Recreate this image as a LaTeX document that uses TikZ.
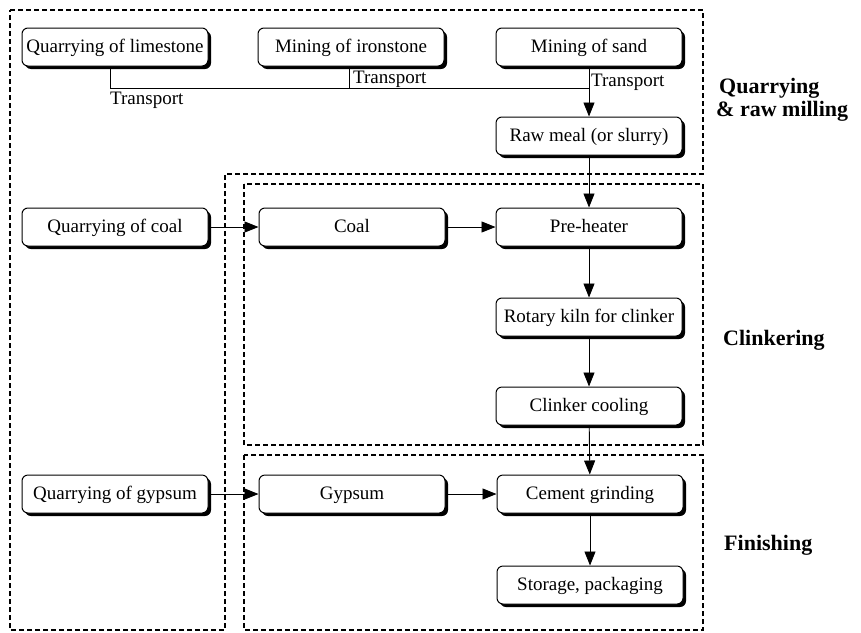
\documentclass[tikz,border=0pt]{standalone}
\usepackage{fontspec}
\setmainfont{Liberation Serif}
\usetikzlibrary{shadows,arrows.meta,calc}
\begin{document}
\begin{tikzpicture}[x=1pt,y=-1pt,
  box/.style={draw=black, line width=1pt, rounded corners=6pt, fill=white,
    minimum width=186pt, minimum height=38pt, inner sep=0pt,
    text height=14pt, text depth=3pt,
    font=\fontsize{19}{22}\selectfont,
    drop shadow={shadow xshift=3pt, shadow yshift=-3pt, fill=black, opacity=1}},
  conn/.style={line width=0.9pt, -{Triangle[length=14pt,width=11pt]}},
  plain/.style={line width=0.9pt},
  region/.style={line width=1.1pt, dash pattern=on 5pt off 3pt},
  lbl/.style={font=\fontsize{19}{22}\selectfont, inner sep=0pt},
  stage/.style={font=\fontsize{22}{23}\selectfont\bfseries, inner sep=0pt, align=left, anchor=west}
]
\useasboundingbox (0,0) rectangle (861,632);

% regions
\draw[region] (10,10) -- (703,10) -- (703,174) -- (225,174) -- (225,630) -- (10,630) -- cycle;
\draw[region] (244,184) rectangle (703,445);
\draw[region] (244,455) rectangle (703,630);

% nodes
\node[box] (lime) at (115,47) {Quarrying of limestone};
\node[box] (iron) at (351,47) {Mining of ironstone};
\node[box] (sand) at (589,47) {Mining of sand};
\node[box] (raw) at (589,136) {Raw meal (or slurry)};
\node[box] (qcoal) at (115,227) {Quarrying of coal};
\node[box] (coal) at (352,227) {Coal};
\node[box] (pre) at (589,227) {Pre-heater};
\node[box] (kiln) at (589,317) {Rotary kiln for clinker};
\node[box] (cool) at (589,406) {Clinker cooling};
\node[box] (qgyp) at (115,494) {Quarrying of gypsum};
\node[box] (gyp) at (352,494) {Gypsum};
\node[box] (cem) at (590,494) {Cement grinding};
\node[box] (sto) at (590,585) {Storage, packaging};

% transport joints
\coordinate (j1) at (110,88);
\coordinate (j2) at (349,88);
\coordinate (j3) at (589,88);
\draw[plain] (lime.south -| j1) -- (j1) -- (j3);
\draw[plain] (iron.south -| j2) -- (j2);
\draw[conn] (sand) -- (raw);
\node[lbl, anchor=north west] (t1) at (110,92) {Transport};
\node[lbl, anchor=west] (t2) at (353,79) {Transport};
\node[lbl, anchor=west] (t3) at (591,82) {Transport};

% flow
\draw[conn] (raw) -- (pre);
\draw[conn] (qcoal) -- (coal);
\draw[conn] (coal) -- (pre);
\draw[conn] (pre) -- (kiln);
\draw[conn] (kiln) -- (cool);
\draw[conn] (cool) -- (cem);
\draw[conn] (qgyp) -- (gyp);
\draw[conn] (gyp) -- (cem);
\draw[conn] (cem) -- (sto);

% stage labels
\node[stage] (s1) at (716,100) {\hspace*{3pt}Quarrying\\\& raw milling};
\node[stage] (s2) at (723,340) {Clinkering};
\node[stage] (s3) at (724,545) {Finishing};
\end{tikzpicture}
\end{document}
